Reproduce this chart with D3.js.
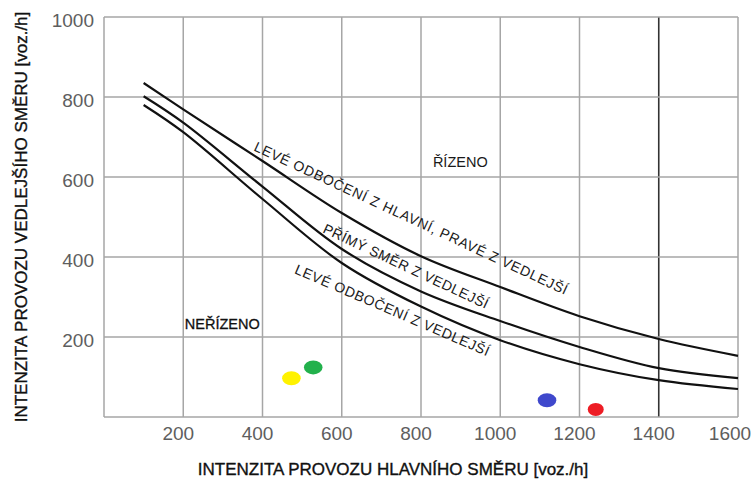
<!DOCTYPE html>
<html><head><meta charset="utf-8">
<script src="https://cdn.jsdelivr.net/npm/d3@7"></script>
<style>body{margin:0;background:#fff}svg{display:block}text{font-family:"Liberation Sans",Arial,sans-serif}</style>
</head><body><svg id="c" width="752" height="492"></svg>
<script>
// ---- data ----
const xTicks = [200, 400, 600, 800, 1000, 1200, 1400, 1600];
const yTicks = [200, 400, 600, 800, 1000];
const curveX = [100, 200, 400, 600, 800, 1000, 1200, 1400, 1600];
const curveTop = [835, 769, 640, 510, 402, 325, 252, 195, 153];
const curveMid = [802, 736, 576, 420, 314, 240, 175, 122, 97];
const curveBot = [780, 712, 545, 385, 276, 192, 132, 92, 70];
const curveNames = ["LEVÉ ODBOČENÍ Z HLAVNÍ, PRAVÉ Z VEDLEJŠÍ", "PŘÍMÝ SMĚR Z VEDLEJŠÍ", "LEVÉ ODBOČENÍ Z VEDLEJŠÍ"];
const pointX = [473, 528, 1118, 1241];
const pointY = [97, 124, 42, 19];
const pointColors = ["#fff200", "#22b14c", "#3f48cc", "#ed1c24"];
const xTitle = "INTENZITA PROVOZU HLAVNÍHO SMĚRU [voz./h]";
const yTitle = "INTENZITA PROVOZU VEDLEJŠÍHO SMĚRU [voz./h]";

// ---- layout ----
const svg = d3.select("#c");
const x = d3.scaleLinear().domain([0, 1600]).range([104, 738]);
const y = d3.scaleLinear().domain([0, 1000]).range([417, 17]);

// grid
const g = svg.append("g");
g.selectAll("line.v").data(xTicks).join("line")
  .attr("x1", d => x(d)).attr("x2", d => x(d)).attr("y1", y(1000)).attr("y2", y(0))
  .attr("stroke", d => d === 1400 ? "#333" : "#a6a6a6").attr("stroke-width", d => d === 1400 ? 1.6 : 1.5);
g.selectAll("line.h").data(yTicks).join("line")
  .attr("x1", x(0)).attr("x2", x(1600)).attr("y1", d => y(d)).attr("y2", d => y(d))
  .attr("stroke", "#a6a6a6").attr("stroke-width", 1.5);
g.append("line").attr("x1", x(0)).attr("x2", x(0)).attr("y1", y(1000)).attr("y2", y(0)).attr("stroke", "#a6a6a6").attr("stroke-width", 1.5);
g.append("line").attr("x1", x(0)).attr("x2", x(1600)).attr("y1", y(0)).attr("y2", y(0)).attr("stroke", "#a6a6a6").attr("stroke-width", 1.5);

// tick labels
svg.append("g").selectAll("text").data(xTicks).join("text")
  .attr("x", d => Math.min(x(d) - 5, 730)).attr("y", 440).attr("text-anchor", "middle")
  .attr("font-size", 19).attr("fill", "#5e5e5e").text(d => d);
svg.append("g").selectAll("text").data(yTicks).join("text")
  .attr("x", 94).attr("y", d => y(d) + 10).attr("text-anchor", "end")
  .attr("font-size", 19).attr("fill", "#5e5e5e").text(d => d);

// curves
const series = [curveTop, curveMid, curveBot];
const line = d3.line().x(d => x(d[0])).y(d => y(d[1])).curve(d3.curveCatmullRom.alpha(0.5));
svg.append("g").selectAll("path").data(series).join("path")
  .attr("d", s => line(curveX.map((v, i) => [v, s[i]])))
  .attr("fill", "none").attr("stroke", "#111").attr("stroke-width", 2.2);

// curve labels (straight, anchored in data units)
const labelAnchors = [[376, 667, 1163, 305], [550, 462, 963, 270], [479, 360, 966, 152]];
svg.append("g").selectAll("text").data(curveNames).join("text")
  .each(function(t, i) {
    const [a, b, c, d] = labelAnchors[i];
    const x1 = x(a), y1 = y(b), x2 = x(c), y2 = y(d);
    const ang = Math.atan2(y2 - y1, x2 - x1) * 180 / Math.PI;
    const len = Math.hypot(x2 - x1, y2 - y1);
    d3.select(this).attr("transform", `translate(${x1},${y1}) rotate(${ang})`)
      .attr("textLength", len).attr("lengthAdjust", "spacing")
      .attr("font-size", 14).attr("fill", "#1a1a1a").text(t);
  });

// region labels
svg.append("text").attr("x", x(830)).attr("y", y(625)).attr("font-size", 14.5).attr("fill", "#1a1a1a").text("ŘÍZENO");
svg.append("text").attr("x", x(204)).attr("y", y(220)).attr("font-size", 14.5).attr("fill", "#111")
  .attr("stroke", "#111").attr("stroke-width", 0.3).text("NEŘÍZENO");

// points
svg.append("g").selectAll("ellipse").data(pointX).join("ellipse")
  .attr("cx", d => x(d)).attr("cy", (d, i) => y(pointY[i]))
  .attr("rx", (d, i) => i === 3 ? 8 : 9.3).attr("ry", (d, i) => i === 3 ? 6.5 : 7)
  .attr("fill", (d, i) => pointColors[i]);

// axis titles
svg.append("text").attr("x", 393).attr("y", 475).attr("text-anchor", "middle")
  .attr("font-size", 17).attr("fill", "#111").attr("stroke", "#111").attr("stroke-width", 0.35).text(xTitle);
svg.append("text").attr("transform", "translate(27,217) rotate(-90)").attr("text-anchor", "middle")
  .attr("font-size", 17).attr("fill", "#111").attr("stroke", "#111").attr("stroke-width", 0.35).text(yTitle);
</script></body></html>
